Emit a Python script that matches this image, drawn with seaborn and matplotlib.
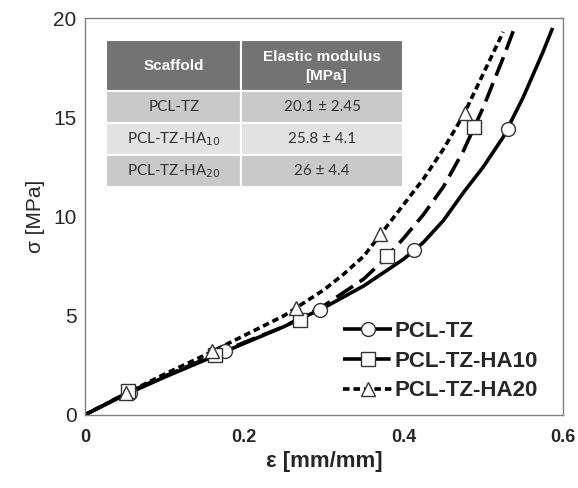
import numpy as np
import pandas as pd
import matplotlib
matplotlib.use('Agg')
import matplotlib.pyplot as plt
import seaborn as sns

# ============================================================================
# DATA
# ============================================================================

# PCL-TZ curve (solid) and its circle markers
tz_strain = [0, 0.05, 0.1, 0.15, 0.2, 0.25, 0.3, 0.35, 0.4, 0.425, 0.45, 0.475,
             0.5, 0.525, 0.55, 0.575, 0.587]
tz_stress = [0, 1.0, 1.9, 2.75, 3.6, 4.45, 5.4, 6.5, 7.85, 8.7, 9.8, 11.2,
             12.5, 14.0, 16.0, 18.3, 19.5]
tz_mk_strain = [0.056, 0.176, 0.295, 0.413, 0.531]
tz_mk_stress = [1.1, 3.2, 5.3, 8.3, 14.4]

# PCL-TZ-HA10 curve (long dash) and square markers
ha10_strain = [0, 0.05, 0.1, 0.15, 0.2, 0.25, 0.3, 0.35, 0.375, 0.4, 0.425,
               0.45, 0.475, 0.5, 0.525, 0.54]
ha10_stress = [0, 1.05, 1.95, 2.8, 3.65, 4.45, 5.5, 6.85, 7.8, 8.9, 10.1,
               11.5, 13.3, 15.5, 18.0, 19.6]
ha10_mk_strain = [0.054, 0.163, 0.270, 0.379, 0.488]
ha10_mk_stress = [1.2, 3.0, 4.8, 8.0, 14.5]

# PCL-TZ-HA20 curve (short dash) and triangle markers
ha20_strain = [0, 0.05, 0.1, 0.15, 0.2, 0.25, 0.3, 0.325, 0.35, 0.375, 0.4,
               0.425, 0.45, 0.475, 0.5, 0.525]
ha20_stress = [0, 1.05, 2.05, 3.0, 4.0, 5.0, 6.3, 7.1, 8.0, 9.3, 10.6,
               11.9, 13.4, 15.1, 17.2, 19.3]
ha20_mk_strain = [0.052, 0.159, 0.265, 0.370, 0.477]
ha20_mk_stress = [1.1, 3.2, 5.4, 9.1, 15.2]

# Inset table
table_header = ['Scaffold', 'Elastic modulus', '[MPa]']
table_scaffold = ['PCL-TZ', 'PCL-TZ-HA$_{10}$', 'PCL-TZ-HA$_{20}$']
table_modulus = ['20.1 ± 2.45', '25.8 ± 4.1', '26 ± 4.4']

legend_labels = ['PCL-TZ', 'PCL-TZ-HA10', 'PCL-TZ-HA20']

# ============================================================================
# PLOT
# ============================================================================

sns.set_style('white')
plt.rcParams['font.family'] = ['Liberation Sans', 'DejaVu Sans']

fig = plt.figure(figsize=(5.78, 4.88), dpi=100)
ax = fig.add_axes([0.147, 0.150, 0.827, 0.813])

series = [
    (tz_strain, tz_stress, tz_mk_strain, tz_mk_stress, 'o', (0, ()), legend_labels[0]),
    (ha10_strain, ha10_stress, ha10_mk_strain, ha10_mk_stress, 's', (0, (5.5, 2.2)), legend_labels[1]),
    (ha20_strain, ha20_stress, ha20_mk_strain, ha20_mk_stress, '^', (0, (1.8, 1.1)), legend_labels[2]),
]

handles = []
for xs, ys, mx, my, mk, ls, lab in series:
    df = pd.DataFrame({'x': xs, 'y': ys})
    sns.lineplot(data=df, x='x', y='y', ax=ax, color='black', lw=2.6,
                 linestyle=ls, sort=False, estimator=None)
    dm = pd.DataFrame({'x': mx, 'y': my})
    ax.plot(dm['x'], dm['y'], linestyle='none', marker=mk, markersize=10,
            markerfacecolor='white', markeredgecolor='#333333', markeredgewidth=1.0,
            zorder=5)
    h, = ax.plot([], [], color='black', lw=2.6, linestyle=ls, marker=mk,
                 markersize=10, markerfacecolor='white', markeredgecolor='#333333',
                 markeredgewidth=1.0)
    handles.append(h)

ax.set_xlim(0, 0.6)
ax.set_ylim(0, 20)
ax.set_xticks([0, 0.2, 0.4, 0.6])
ax.set_xticklabels(['0', '0.2', '0.4', '0.6'])
ax.set_yticks([0, 5, 10, 15, 20])

for s in ax.spines.values():
    s.set_color('#808080')
    s.set_linewidth(1.0)

ax.tick_params(axis='x', direction='out', length=7, width=1, color='#808080',
               labelsize=13, pad=3)
ax.tick_params(axis='y', direction='out', length=4, width=1, color='#808080',
               labelsize=15, pad=2)
for t in ax.get_xticklabels():
    t.set_fontweight('bold')

ax.set_xlabel('ε [mm/mm]', fontsize=16, fontweight='bold', labelpad=4)
ax.set_ylabel('σ [MPa]', fontsize=15, labelpad=6)

leg = ax.legend(handles, legend_labels, loc='lower right', frameon=False,
                prop={'weight': 'bold', 'size': 16}, handlelength=2.2,
                handletextpad=0.1, labelspacing=0.4, borderaxespad=0.2,
                bbox_to_anchor=(0.975, 0.0))

# ============================================================================
# INSET TABLE
# ============================================================================

tb_x, tb_y, tb_w, tb_h = 0.045, 0.575, 0.62, 0.37
col_w = [0.455, 0.545]
head_h = 0.13

cells = [[a, b] for a, b in zip(table_scaffold, table_modulus)]
tbl = ax.table(cellText=cells, colLabels=['', ''], cellLoc='center',
               bbox=[tb_x, tb_y, tb_w, tb_h], colWidths=col_w)
tbl.auto_set_font_size(False)
row_colors = ['#c9c9c9', '#e2e2e2', '#c9c9c9']
for (r, c), cell in tbl.get_celld().items():
    cell.set_edgecolor('white')
    cell.set_linewidth(1.5)
    txt = cell.get_text()
    txt.set_fontfamily(['Lato', 'DejaVu Sans'])
    if r == 0:
        cell.set_facecolor('#737373')
        cell.set_height(head_h)
    else:
        cell.set_facecolor(row_colors[r - 1])
        txt.set_color('#333333')
        txt.set_fontsize(11)
        cell.set_height((tb_h - head_h) / 3)

# header text: centred on the header cells (second column has two lines)
y_mid = tb_y + tb_h - head_h / 2
cx1 = tb_x + tb_w * col_w[0] / 2
cx2 = tb_x + tb_w * (col_w[0] + col_w[1] / 2)
head_kw = dict(transform=ax.transAxes, va='center', color='white',
               fontweight='bold', fontsize=11, family='Liberation Sans', zorder=10)
ax.text(cx1, y_mid, table_header[0], ha='center', **head_kw)
ax.text(cx2, y_mid + 0.023, table_header[1], ha='center', **head_kw)
ax.text(cx2 - 0.036, y_mid - 0.025, table_header[2], ha='left', **head_kw)

fig.savefig('out.png', dpi=100)
